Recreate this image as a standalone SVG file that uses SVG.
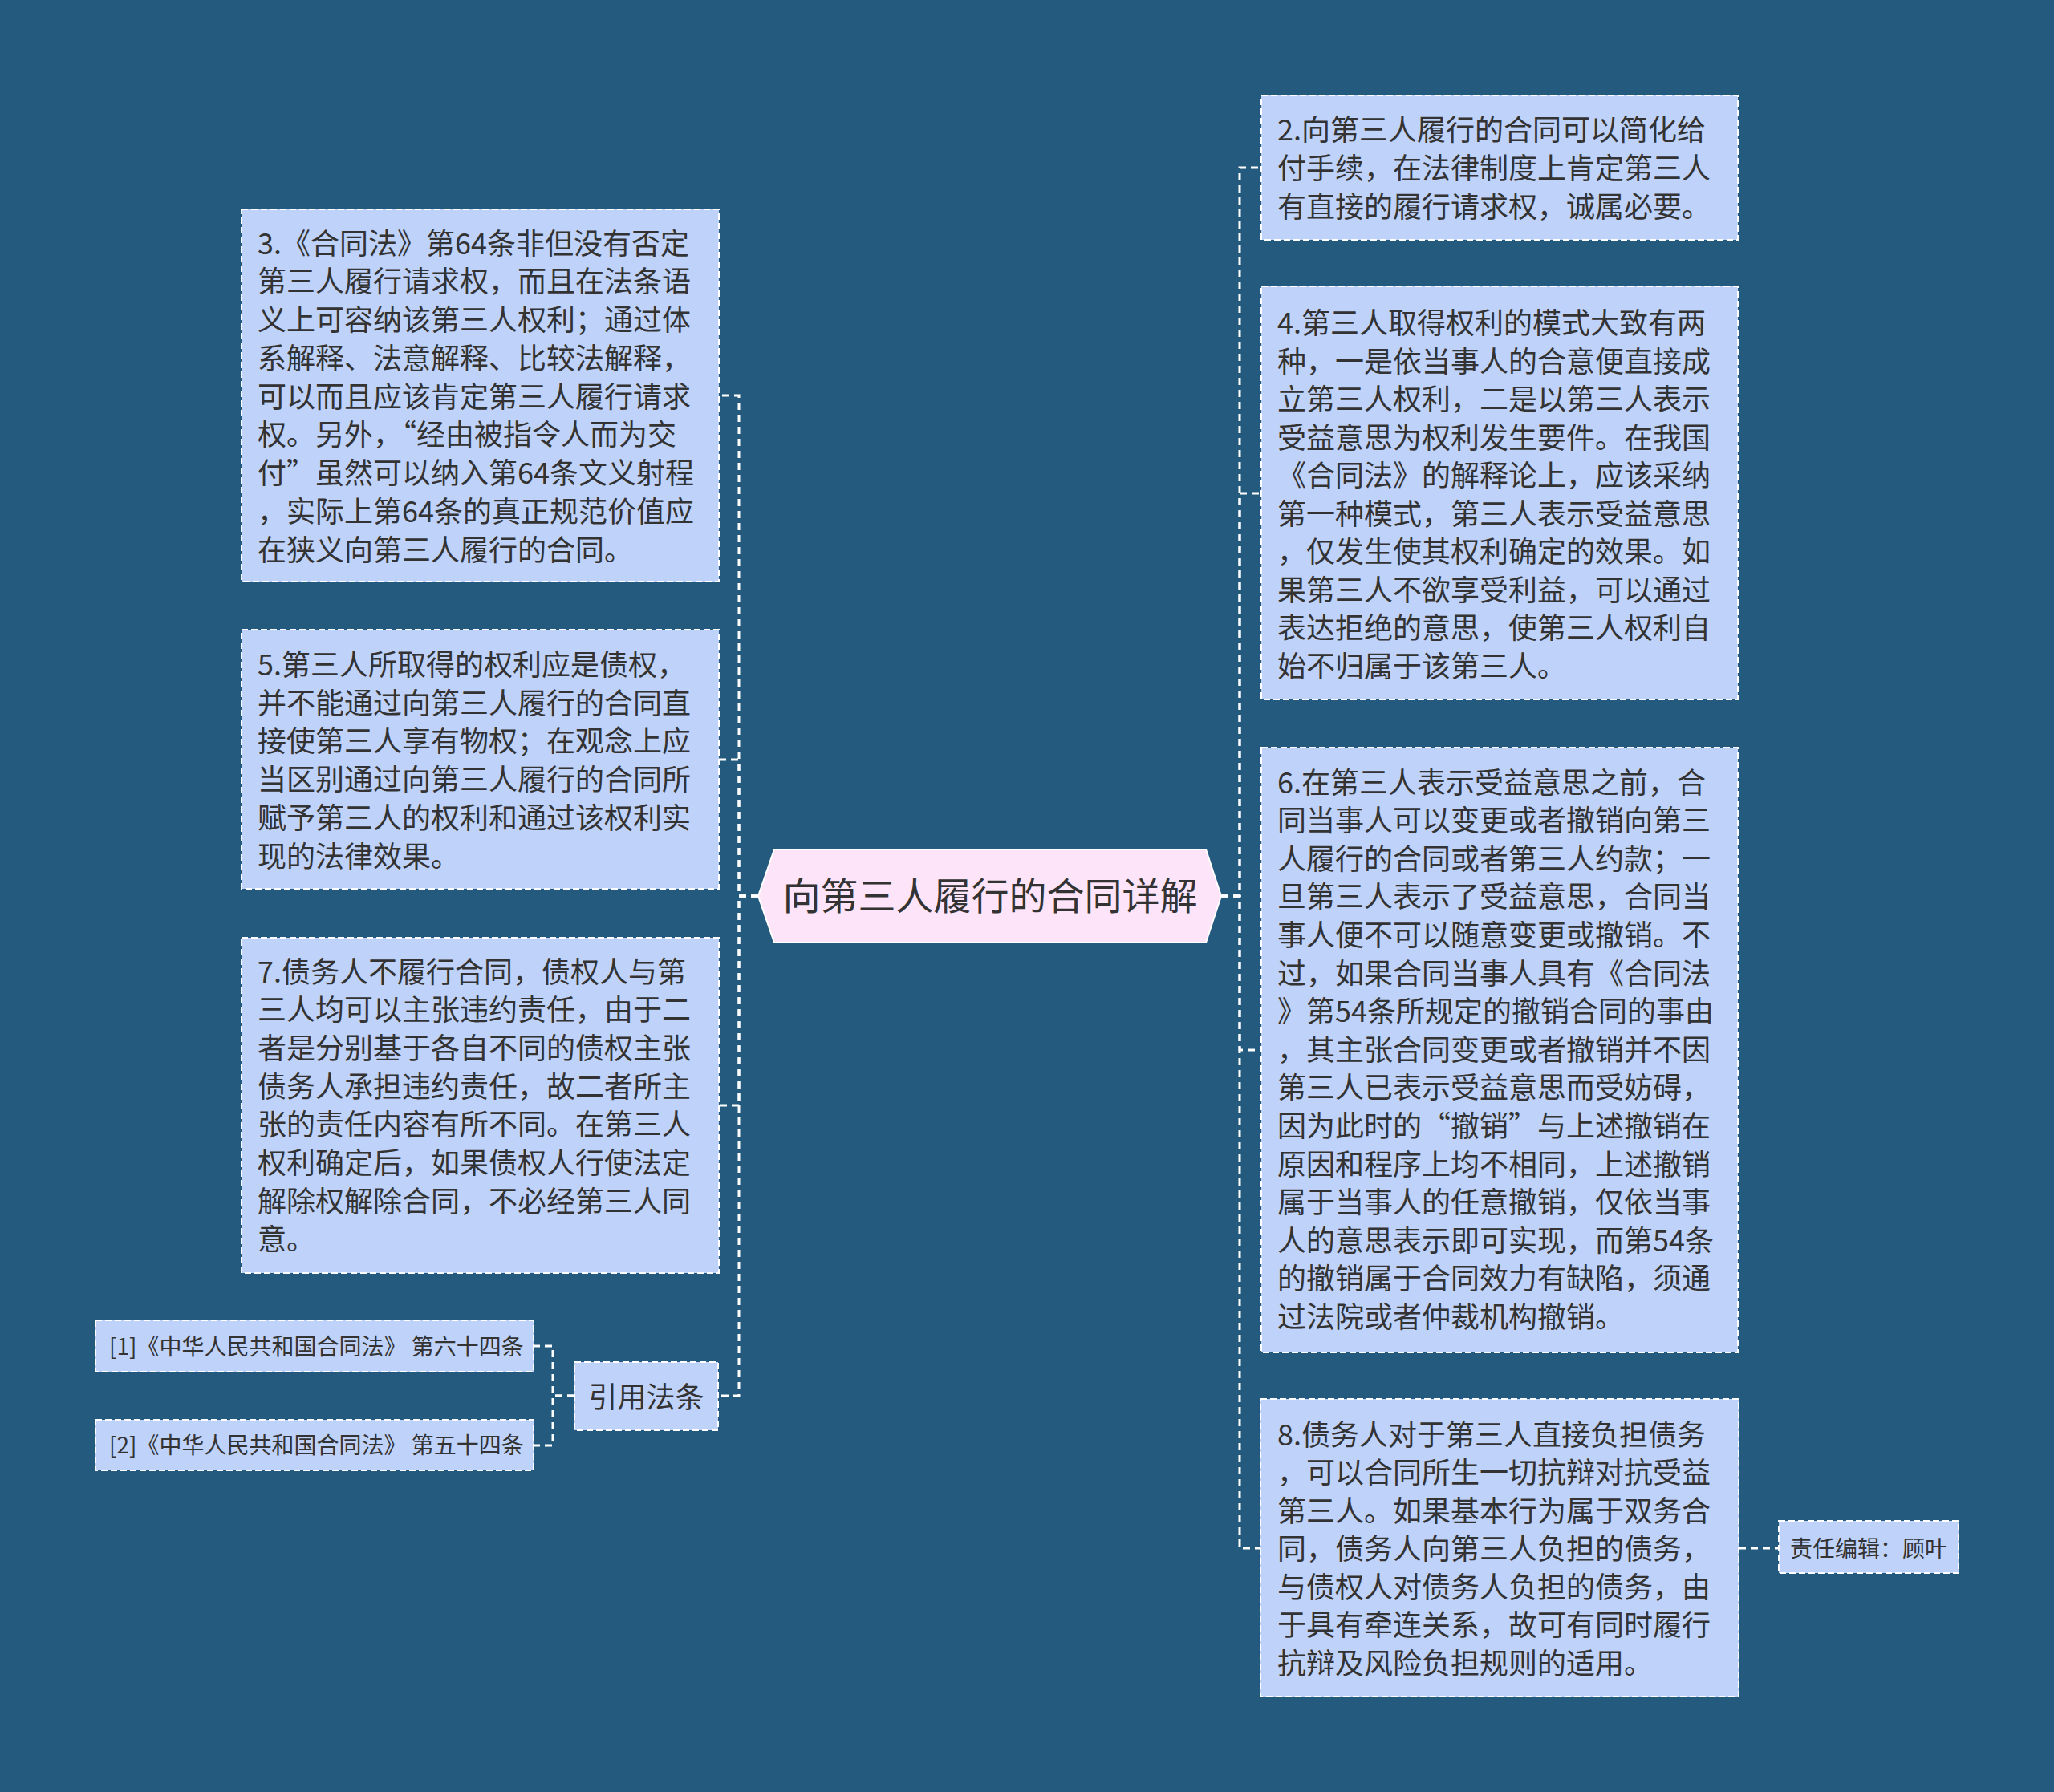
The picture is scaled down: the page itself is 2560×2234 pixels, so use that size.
<svg xmlns="http://www.w3.org/2000/svg" width="2560" height="2234" viewBox="0 0 2560 2234">
<style>
.bg{fill:#235A7D}
.box{fill:#BFD2FA;stroke:#FFFFFF;stroke-width:2;stroke-dasharray:8 4}
.t{font-family:"Noto Sans CJK SC","Noto Sans",sans-serif;font-size:36px;fill:#333333}
.ts{font-family:"Noto Sans CJK SC","Noto Sans",sans-serif;font-size:28px;fill:#333333}
.tc{font-family:"Noto Sans CJK SC","Noto Sans",sans-serif;font-size:47px;fill:#333333;text-anchor:middle}
.ln{fill:none;stroke:#FFFFFF;stroke-width:3;stroke-dasharray:9 6}
</style>
<rect class="bg" x="0" y="0" width="2560" height="2234"/>
<g id="connectors">
<path class="ln" d="M945 1117 H921 V493 H896"/>
<path class="ln" d="M945 1117 H921 V947 H896"/>
<path class="ln" d="M945 1117 H921 V1378 H896"/>
<path class="ln" d="M945 1117 H921 V1740 H895"/>
<path class="ln" d="M1522 1117 H1545 V209 H1572"/>
<path class="ln" d="M1522 1117 H1545 V615 H1572"/>
<path class="ln" d="M1522 1117 H1545 V1309 H1572"/>
<path class="ln" d="M1522 1117 H1545 V1930 H1572"/>
<path class="ln" d="M716 1740 H689 V1678 H665"/>
<path class="ln" d="M716 1740 H689 V1802 H665"/>
<path class="ln" d="M2167 1930 H2217"/>
</g>
<g id="root">
<polygon points="945,1117 965,1059 1503,1059 1522,1117 1503,1175 965,1175" fill="#FDE4F9" stroke="#FFFFFF" stroke-width="2"/>
<text class="tc" x="1234" y="1134">向第三人履行的合同详解</text>
</g>
<g id="n3">
<rect class="box" x="301" y="261" width="595" height="464"/>
<text class="t" x="321" y="316.5"><tspan x="321">3.《合同法》第64条非但没有否定</tspan><tspan x="321" dy="47.75">第三人履行请求权，而且在法条语</tspan><tspan x="321" dy="47.75">义上可容纳该第三人权利；通过体</tspan><tspan x="321" dy="47.75">系解释、法意解释、比较法解释，</tspan><tspan x="321" dy="47.75">可以而且应该肯定第三人履行请求</tspan><tspan x="321" dy="47.75">权。另外，“经由被指令人而为交</tspan><tspan x="321" dy="47.75">付”虽然可以纳入第64条文义射程</tspan><tspan x="321" dy="47.75">，实际上第64条的真正规范价值应</tspan><tspan x="321" dy="47.75">在狭义向第三人履行的合同。</tspan></text>
</g>
<g id="n5">
<rect class="box" x="301" y="785" width="595" height="323"/>
<text class="t" x="321" y="842"><tspan x="321">5.第三人所取得的权利应是债权，</tspan><tspan x="321" dy="47.7">并不能通过向第三人履行的合同直</tspan><tspan x="321" dy="47.7">接使第三人享有物权；在观念上应</tspan><tspan x="321" dy="47.7">当区别通过向第三人履行的合同所</tspan><tspan x="321" dy="47.7">赋予第三人的权利和通过该权利实</tspan><tspan x="321" dy="47.7">现的法律效果。</tspan></text>
</g>
<g id="n7">
<rect class="box" x="301" y="1169" width="595" height="418"/>
<text class="t" x="321" y="1224.5"><tspan x="321">7.债务人不履行合同，债权人与第</tspan><tspan x="321" dy="47.7">三人均可以主张违约责任，由于二</tspan><tspan x="321" dy="47.7">者是分别基于各自不同的债权主张</tspan><tspan x="321" dy="47.7">债务人承担违约责任，故二者所主</tspan><tspan x="321" dy="47.7">张的责任内容有所不同。在第三人</tspan><tspan x="321" dy="47.7">权利确定后，如果债权人行使法定</tspan><tspan x="321" dy="47.7">解除权解除合同，不必经第三人同</tspan><tspan x="321" dy="47.7">意。</tspan></text>
</g>
<g id="cite">
<rect class="box" x="716" y="1698" width="179" height="85"/>
<text class="t" x="805.5" y="1754.5" text-anchor="middle">引用法条</text>
</g>
<g id="cite1">
<rect class="box" x="119" y="1646" width="546" height="64"/>
<text class="ts" x="136" y="1688.5">[1]《中华人民共和国合同法》 第六十四条</text>
</g>
<g id="cite2">
<rect class="box" x="119" y="1770" width="546" height="63"/>
<text class="ts" x="136" y="1812">[2]《中华人民共和国合同法》 第五十四条</text>
</g>
<g id="n2">
<rect class="box" x="1572" y="119" width="594" height="180"/>
<text class="t" x="1592" y="174.5"><tspan x="1592">2.向第三人履行的合同可以简化给</tspan><tspan x="1592" dy="48">付手续，在法律制度上肯定第三人</tspan><tspan x="1592" dy="48">有直接的履行请求权，诚属必要。</tspan></text>
</g>
<g id="n4">
<rect class="box" x="1572" y="357" width="594" height="515"/>
<text class="t" x="1592" y="416"><tspan x="1592">4.第三人取得权利的模式大致有两</tspan><tspan x="1592" dy="47.5">种，一是依当事人的合意便直接成</tspan><tspan x="1592" dy="47.5">立第三人权利，二是以第三人表示</tspan><tspan x="1592" dy="47.5">受益意思为权利发生要件。在我国</tspan><tspan x="1592" dy="47.5">《合同法》的解释论上，应该采纳</tspan><tspan x="1592" dy="47.5">第一种模式，第三人表示受益意思</tspan><tspan x="1592" dy="47.5">，仅发生使其权利确定的效果。如</tspan><tspan x="1592" dy="47.5">果第三人不欲享受利益，可以通过</tspan><tspan x="1592" dy="47.5">表达拒绝的意思，使第三人权利自</tspan><tspan x="1592" dy="47.5">始不归属于该第三人。</tspan></text>
</g>
<g id="n6">
<rect class="box" x="1572" y="932" width="594" height="754"/>
<text class="t" x="1592" y="988.5"><tspan x="1592">6.在第三人表示受益意思之前，合</tspan><tspan x="1592" dy="47.6">同当事人可以变更或者撤销向第三</tspan><tspan x="1592" dy="47.6">人履行的合同或者第三人约款；一</tspan><tspan x="1592" dy="47.6">旦第三人表示了受益意思，合同当</tspan><tspan x="1592" dy="47.6">事人便不可以随意变更或撤销。不</tspan><tspan x="1592" dy="47.6">过，如果合同当事人具有《合同法</tspan><tspan x="1592" dy="47.6">》第54条所规定的撤销合同的事由</tspan><tspan x="1592" dy="47.6">，其主张合同变更或者撤销并不因</tspan><tspan x="1592" dy="47.6">第三人已表示受益意思而受妨碍，</tspan><tspan x="1592" dy="47.6">因为此时的“撤销”与上述撤销在</tspan><tspan x="1592" dy="47.6">原因和程序上均不相同，上述撤销</tspan><tspan x="1592" dy="47.6">属于当事人的任意撤销，仅依当事</tspan><tspan x="1592" dy="47.6">人的意思表示即可实现，而第54条</tspan><tspan x="1592" dy="47.6">的撤销属于合同效力有缺陷，须通</tspan><tspan x="1592" dy="47.6">过法院或者仲裁机构撤销。</tspan></text>
</g>
<g id="n8">
<rect class="box" x="1571" y="1744" width="596" height="371"/>
<text class="t" x="1592" y="1801.5"><tspan x="1592">8.债务人对于第三人直接负担债务</tspan><tspan x="1592" dy="47.5">，可以合同所生一切抗辩对抗受益</tspan><tspan x="1592" dy="47.5">第三人。如果基本行为属于双务合</tspan><tspan x="1592" dy="47.5">同，债务人向第三人负担的债务，</tspan><tspan x="1592" dy="47.5">与债权人对债务人负担的债务，由</tspan><tspan x="1592" dy="47.5">于具有牵连关系，故可有同时履行</tspan><tspan x="1592" dy="47.5">抗辩及风险负担规则的适用。</tspan></text>
</g>
<g id="editor">
<rect class="box" x="2217" y="1896" width="224" height="65"/>
<text class="ts" x="2329" y="1940.5" text-anchor="middle">责任编辑：顾叶</text>
</g>
</svg>
